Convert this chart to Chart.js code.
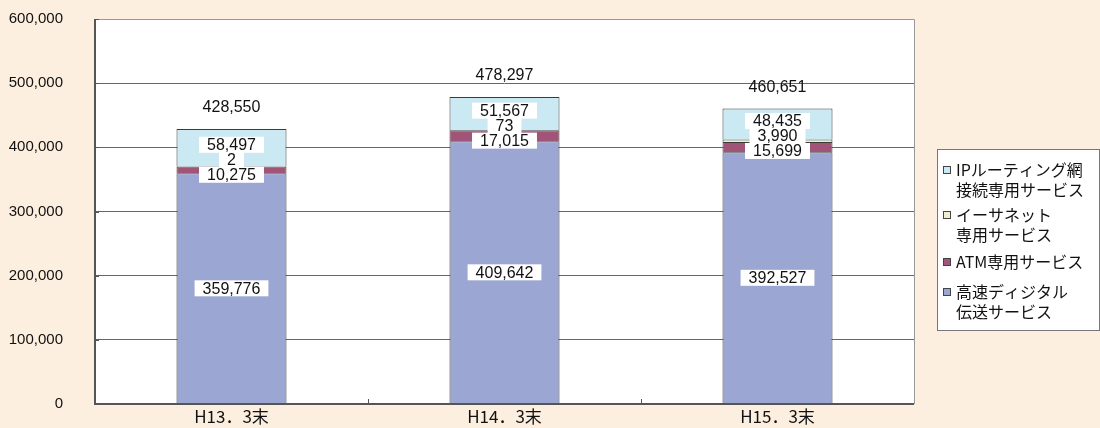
<!DOCTYPE html>
<html><head><meta charset="utf-8">
<script src="https://cdn.jsdelivr.net/npm/chart.js@4"></script>
<style>html,body{margin:0;padding:0;background:#fdefdf;}#wrap{width:1100px;height:428px;position:relative;}</style>
</head><body><div id="wrap"><canvas id="c" width="1100" height="428"></canvas></div>
<script>
const categories = ['H13．3末', 'H14．3末', 'H15．3末'];
const highSpeed = [359776, 409642, 392527];
const atm = [10275, 17015, 15699];
const ethernet = [2, 73, 3990];
const ipRouting = [58497, 51567, 48435];
const totals = [428550, 478297, 460651];
const yTicks = [0, 100000, 200000, 300000, 400000, 500000, 600000];
const legendLabels = [
  ['IPルーティング網', '接続専用サービス'],
  ['イーサネット', '専用サービス'],
  ['ATM専用サービス'],
  ['高速ディジタル', '伝送サービス']
];
const colors = { hs: '#9ba6d3', atm: '#a05478', eth: '#efefcf', ip: '#cbe9f3' };
const fmt = v => v.toLocaleString('en-US');
const numFont = '16px "Liberation Sans", Arial, sans-serif';
const jpFont = '"Noto Sans CJK JP", sans-serif';
const AREA = { left: 95, top: 19, right: 914, bottom: 404 };

const plugin = {
  id: 'custom',
  beforeDraw(chart) {
    const { ctx, chartArea: a } = chart;
    ctx.save();
    ctx.fillStyle = '#ffffff';
    ctx.fillRect(a.left, a.top, a.right - a.left, a.bottom - a.top);
    ctx.restore();
  },
  afterDraw(chart) {
    const { ctx, chartArea: a, scales } = chart;
    ctx.save();
    ctx.strokeStyle = '#999';
    ctx.lineWidth = 1;
    ctx.beginPath();
    ctx.moveTo(a.left, a.top + 0.5); ctx.lineTo(a.right + 0.5, a.top + 0.5); ctx.lineTo(a.right + 0.5, a.bottom);
    ctx.stroke();
    ctx.strokeStyle = '#555';
    ctx.lineWidth = 2;
    ctx.beginPath();
    ctx.moveTo(a.left, a.top); ctx.lineTo(a.left, a.bottom); ctx.lineTo(a.right, a.bottom);
    ctx.stroke();
    ctx.lineWidth = 1;
    yTicks.forEach(t => {
      const y = Math.round(scales.y.getPixelForValue(t)) + 0.5;
      ctx.beginPath(); ctx.moveTo(a.left, y); ctx.lineTo(a.left + 4, y); ctx.stroke();
    });
    const n = categories.length;
    for (let i = 1; i < n; i++) {
      const x = Math.round(a.left + (a.right - a.left) * i / n) + 0.5;
      ctx.beginPath(); ctx.moveTo(x, a.bottom); ctx.lineTo(x, a.bottom - 5); ctx.stroke();
    }
    ctx.font = numFont;
    ctx.textAlign = 'center';
    ctx.textBaseline = 'middle';
    const box = (txt, x, y) => {
      const w = ctx.measureText(txt).width + 16;
      ctx.fillStyle = '#fff';
      ctx.fillRect(x - w / 2, y - 8, w, 16);
      ctx.fillStyle = '#111';
      ctx.fillText(txt, x, y + 1);
    };
    const mHs = chart.getDatasetMeta(0).data;
    const mIp = chart.getDatasetMeta(3).data;
    for (let i = 0; i < n; i++) {
      const bHs = mHs[i], bIp = mIp[i];
      const x = bHs.x;
      const ipC = (bIp.y + bIp.base) / 2 - 3;
      box(fmt(ipRouting[i]), x, ipC);
      box(fmt(ethernet[i]), x, ipC + 15);
      box(fmt(atm[i]), x, ipC + 30);
      box(fmt(highSpeed[i]), x, (bHs.y + bHs.base) / 2);
      ctx.fillStyle = '#111';
      ctx.fillText(fmt(totals[i]), x, scales.y.getPixelForValue(totals[i]) - 21);
    }
    const lx = 937, ly = 149, lw = 162, lh = 181;
    ctx.fillStyle = '#fff';
    ctx.fillRect(lx, ly, lw, lh);
    ctx.strokeStyle = '#777';
    ctx.lineWidth = 1;
    ctx.strokeRect(lx + 0.5, ly + 0.5, lw, lh);
    const items = [
      { c: colors.ip, y: 170 }, { c: colors.eth, y: 215 },
      { c: colors.atm, y: 262 }, { c: colors.hs, y: 292 }
    ];
    ctx.font = '16px ' + jpFont;
    ctx.textAlign = 'left';
    items.forEach((it, k) => {
      ctx.fillStyle = it.c;
      ctx.fillRect(943.5, it.y - 3.5, 7, 7);
      ctx.strokeStyle = '#444';
      ctx.strokeRect(943.5, it.y - 3.5, 7, 7);
      ctx.fillStyle = '#111';
      legendLabels[k].forEach((t, j) => ctx.fillText(t, 956, it.y + j * 20));
    });
    ctx.restore();
  }
};

const areaPlugin = {
  id: 'area',
  afterLayout(chart) {
    const a = chart.chartArea;
    Object.assign(a, AREA);
    a.width = AREA.right - AREA.left; a.height = AREA.bottom - AREA.top;
    const x = chart.scales.x, y = chart.scales.y;
    x.left = AREA.left; x.right = AREA.right; x.width = a.width; x.top = AREA.bottom; x.bottom = 428; x.height = 428 - AREA.bottom;
    y.top = AREA.top; y.bottom = AREA.bottom; y.height = a.height; y.left = 0; y.right = AREA.left; y.width = AREA.left;
    x.configure(); y.configure();
  }
};

new Chart(document.getElementById('c'), {
  type: 'bar',
  data: {
    labels: categories,
    datasets: [
      { label: '高速ディジタル伝送サービス', data: highSpeed, backgroundColor: colors.hs },
      { label: 'ATM専用サービス', data: atm, backgroundColor: colors.atm },
      { label: 'イーサネット専用サービス', data: ethernet, backgroundColor: colors.eth },
      { label: 'IPルーティング網接続専用サービス', data: ipRouting, backgroundColor: colors.ip }
    ].map(d => Object.assign(d, { borderColor: '#3a3a3a', borderWidth: 1, barPercentage: 0.403, categoryPercentage: 1 }))
  },
  options: {
    responsive: false,
    animation: false,
    events: [],
    layout: { padding: { left: 0, top: 19, right: 186, bottom: 0 } },
    plugins: { legend: { display: false }, tooltip: { enabled: false }, title: { display: false } },
    scales: {
      x: {
        stacked: true,
        grid: { display: false, drawTicks: false },
        border: { display: false },
        ticks: { color: '#111', font: { family: '"Noto Sans CJK JP", sans-serif', size: 17 }, padding: 2 },
        afterFit: s => { s.height = 24; }
      },
      y: {
        stacked: true,
        min: 0, max: 600000,
        afterBuildTicks: s => { s.ticks = yTicks.map(v => ({ value: v })); },
        grid: { color: '#666', lineWidth: 1, drawTicks: false },
        border: { display: false },
        ticks: { color: '#111', font: { family: '"Liberation Sans", Arial, sans-serif', size: 15 }, padding: 32, callback: v => fmt(v) },
        afterFit: s => { s.width = 95; }
      }
    }
  },
  plugins: [areaPlugin, plugin]
});
</script></body></html>
